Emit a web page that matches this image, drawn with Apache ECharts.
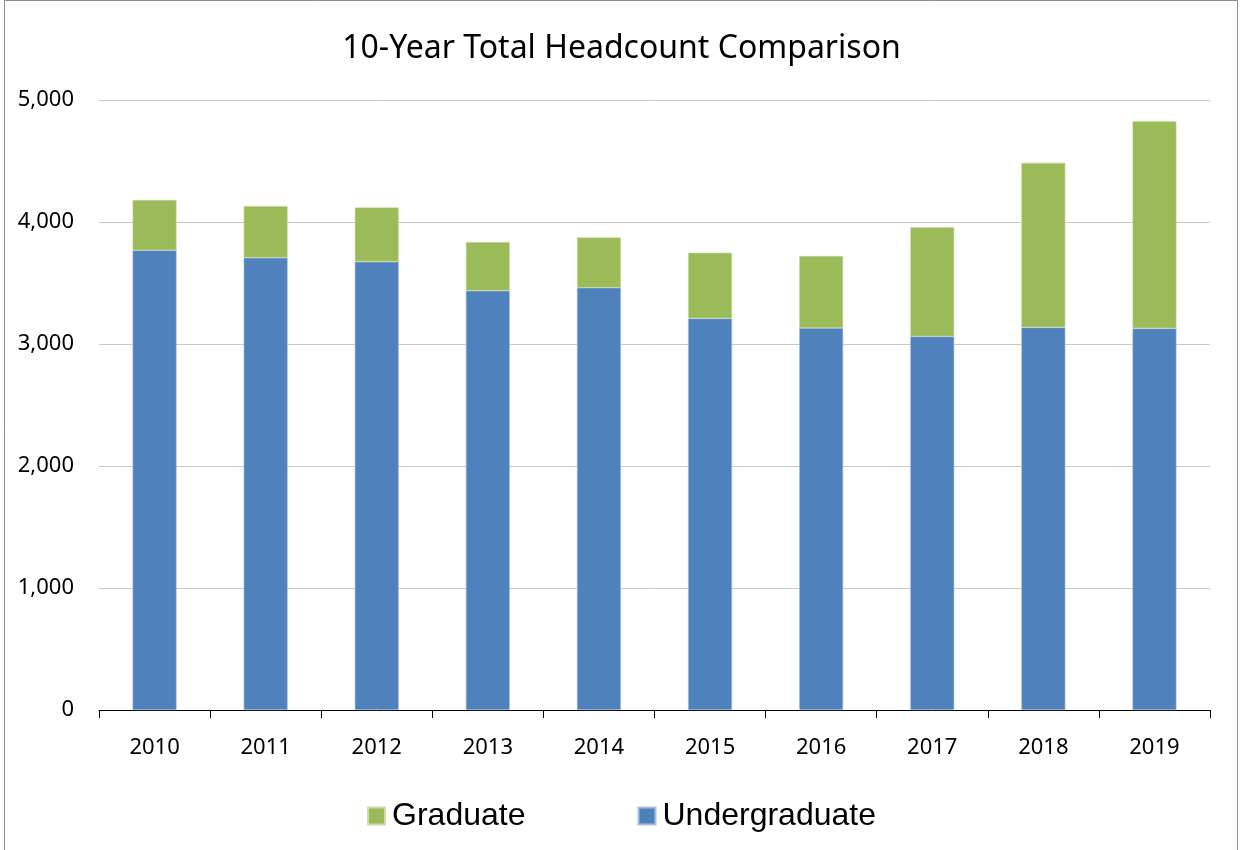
<!DOCTYPE html>
<html>
<head>
<meta charset="utf-8">
<script src="https://cdn.jsdelivr.net/npm/echarts@6/dist/echarts.min.js"></script>
<style>
  html, body { margin: 0; padding: 0; background: #fff; }
  #chart { width: 1243px; height: 850px; }
</style>
</head>
<body>
<div id="chart"></div>
<script>
// headcount by year
const years = ['2010', '2011', '2012', '2013', '2014', '2015', '2016', '2017', '2018', '2019'];
const undergraduate = [3768, 3707, 3674, 3436, 3461, 3210, 3131, 3062, 3136, 3128];
const graduate = [412, 424, 446, 400, 413, 539, 590, 895, 1349, 1699];
const yTicks = [0, 1000, 2000, 3000, 4000, 5000];

const chart = echarts.init(document.getElementById('chart'));

const axisFont = 'Noto Sans, Open Sans, sans-serif';

const option = {
  animation: false,
  backgroundColor: '#fff',
  title: {
    text: '10-Year Total Headcount Comparison',
    left: 'center',
    top: 28,
    textStyle: {
      fontFamily: axisFont,
      fontSize: 32,
      fontWeight: 'normal',
      color: '#000'
    }
  },
  legend: {
    data: ['Graduate', 'Undergraduate'],
    bottom: 13,
    left: 'center',
    itemWidth: 17,
    itemHeight: 17,
    itemGap: 112,
    icon: 'rect',
    textStyle: {
      fontFamily: 'Liberation Sans, Arial, sans-serif',
      fontSize: 32,
      color: '#000',
      padding: [0, 0, 0, 2]
    }
  },
  grid: {
    left: 99,
    right: 33,
    top: 100,
    bottom: 140
  },
  xAxis: {
    type: 'category',
    data: years,
    axisLine: { lineStyle: { color: '#000', width: 1 } },
    axisTick: { show: true, length: 8, lineStyle: { color: '#000' } },
    axisLabel: {
      margin: 27,
      fontFamily: axisFont,
      fontSize: 22,
      color: '#000'
    }
  },
  yAxis: {
    type: 'value',
    min: yTicks[0],
    max: yTicks[yTicks.length - 1],
    interval: 1000,
    axisLine: { show: false },
    axisTick: { show: false },
    splitLine: { lineStyle: { color: '#c8c8c8', width: 1 } },
    axisLabel: {
      margin: 25,
      fontFamily: axisFont,
      fontSize: 22,
      color: '#000',
      formatter: v => v.toLocaleString('en-US')
    }
  },
  series: [
    {
      name: 'Undergraduate',
      type: 'bar',
      stack: 'total',
      data: undergraduate,
      barWidth: 44,
      itemStyle: { color: '#4f81bd', borderColor: '#a7c0de', borderWidth: 0.6 }
    },
    {
      name: 'Graduate',
      type: 'bar',
      stack: 'total',
      data: graduate,
      barWidth: 44,
      itemStyle: { color: '#9bbb59', borderColor: '#cddcab', borderWidth: 0.6 }
    }
  ],
  graphic: [
    {
      type: 'polyline',
      shape: { points: [[4.5, 850], [4.5, 0.5], [1237.5, 0.5], [1237.5, 850]] },
      style: { stroke: '#8c8c8c', fill: null, lineWidth: 1 }
    }
  ]
};

chart.setOption(option);
</script>
</body>
</html>
